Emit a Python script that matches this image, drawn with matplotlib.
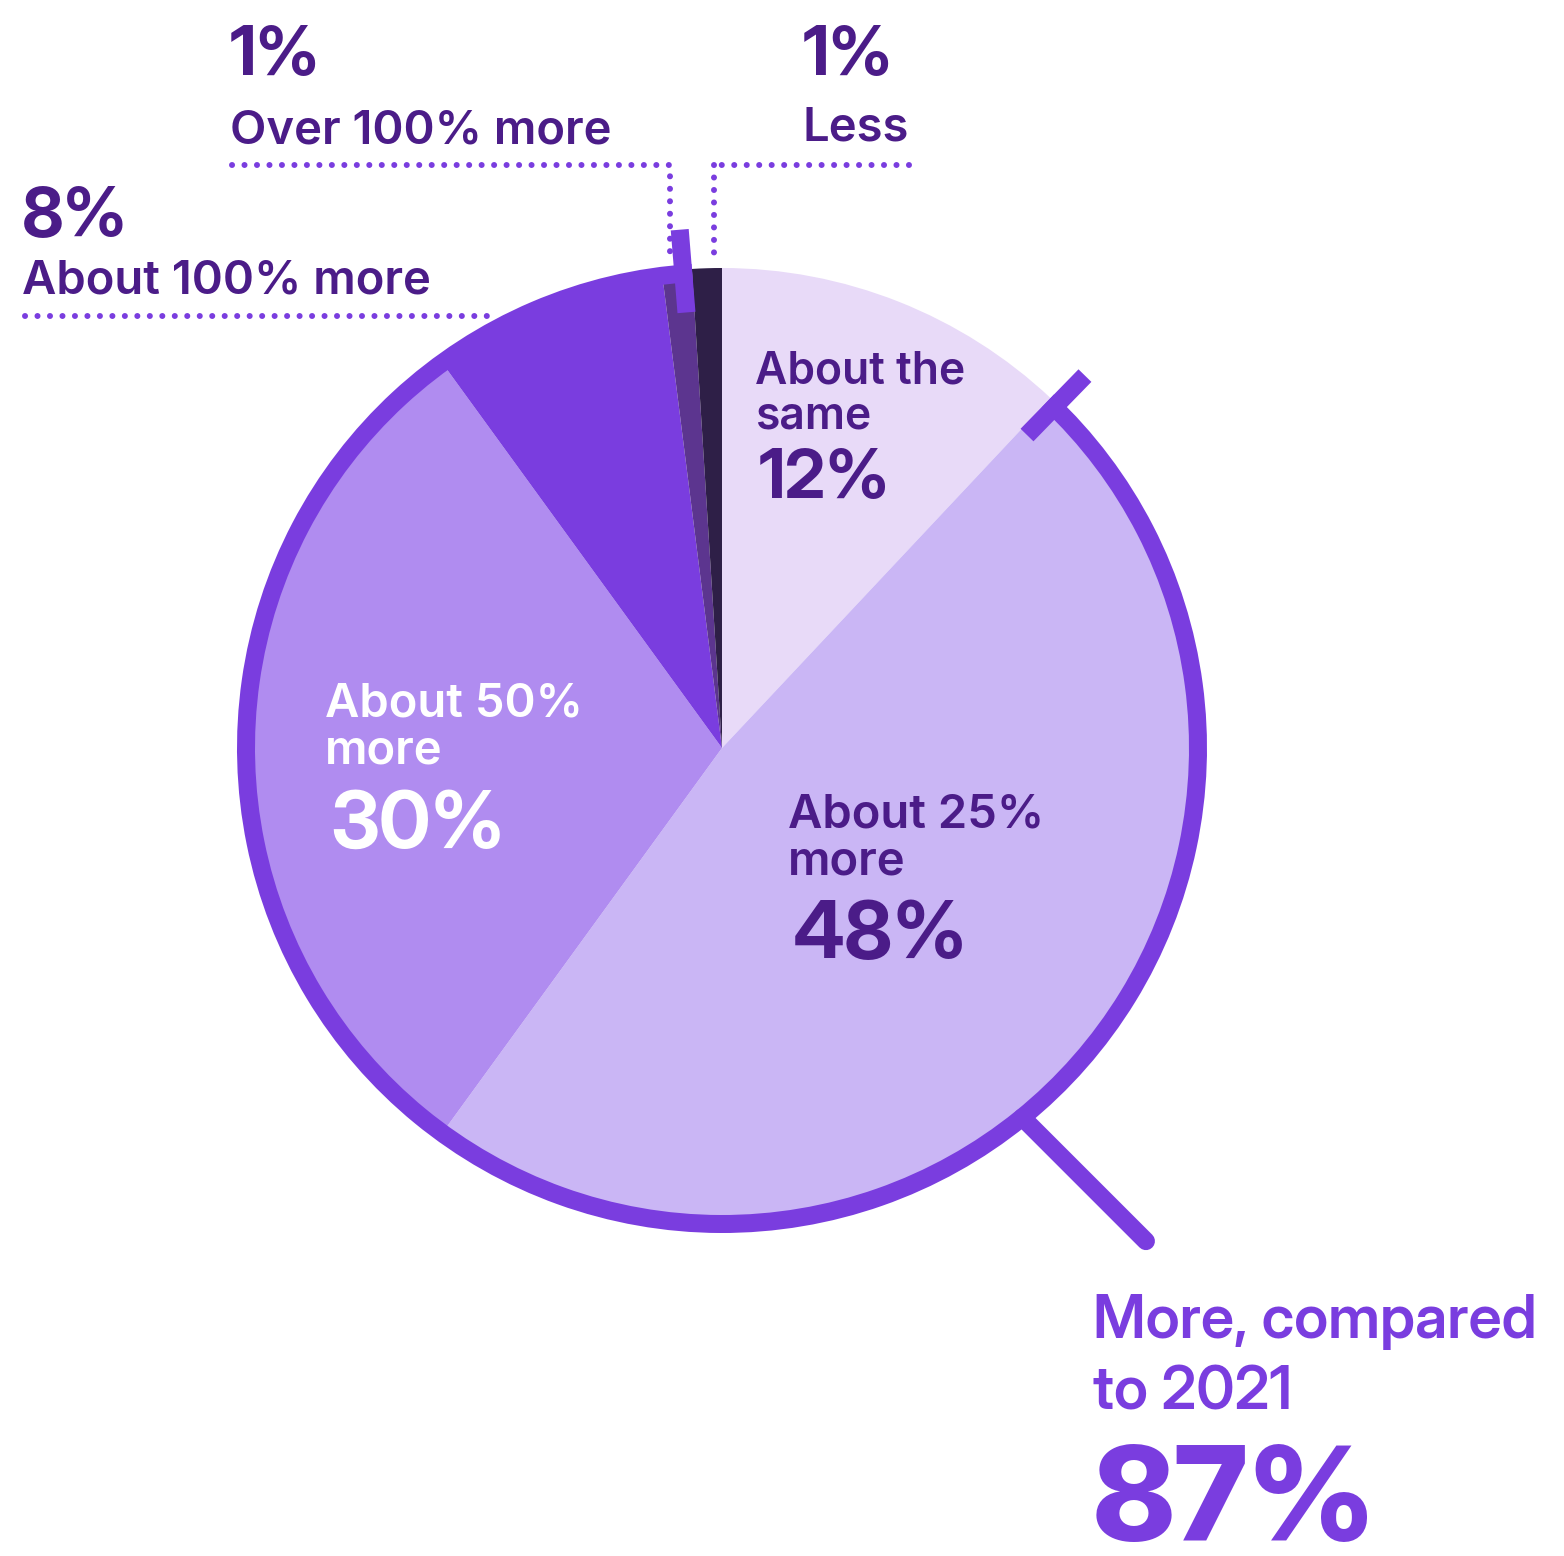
import numpy as np
import matplotlib.pyplot as plt
from matplotlib.patches import Wedge

# Spending compared with 2021, share of respondents
categories = ["About the same", "About 25% more", "About 50% more",
              "About 100% more", "Over 100% more", "Less"]
shares = [12, 48, 30, 8, 1, 1]
more_total = 87
colors = ["#e8daf8", "#cab6f5", "#b08cf0", "#7a3ddf", "#5c358f", "#2e1f47"]

W, H = 1564, 1556
CX, CY, R = 722, 748, 480
RING_R, RING_W = 485, 18
ACCENT = "#7a3ddf"
INK = "#4b1c88"
PX = 72 / 100  # points per pixel at dpi 100

TEXT_FONT = ['Inter', 'DejaVu Sans']
DISPLAY_FONT = ['Inter Display', 'Inter', 'DejaVu Sans']
plt.rcParams['font.family'] = TEXT_FONT

fig = plt.figure(figsize=(W / 100, H / 100), dpi=100)
ax = fig.add_axes([0, 0, 1, 1])
wedges, _ = ax.pie(shares, colors=colors, startangle=-90, counterclock=True,
                   center=(CX, CY), radius=R, wedgeprops=dict(linewidth=0))
ax.set_xlim(0, W)
ax.set_ylim(H, 0)
ax.set_aspect('equal')
ax.axis('off')

# ring around the "more" slices
t_start = wedges[1].theta1
t_end = wedges[4].theta2
ax.add_patch(Wedge((CX, CY), RING_R, t_start, t_end, width=RING_W,
                   facecolor=ACCENT, linewidth=0, zorder=3))


def radial(angle, r0, r1):
    a = np.deg2rad(angle)
    return ([CX + r0 * np.cos(a), CX + r1 * np.cos(a)],
            [CY + r0 * np.sin(a), CY + r1 * np.sin(a)])


# end ticks of the ring
off = np.rad2deg(RING_W / 2 / RING_R)
for ang in (t_start + off, t_end - off):
    xs, ys = radial(ang, 437, 520)
    ax.plot(xs, ys, color=ACCENT, lw=RING_W * PX, solid_capstyle='butt', zorder=4)

# leader to the total
lead_ang = np.deg2rad(50.9)
sx = CX + (RING_R - RING_W / 2) * np.cos(lead_ang)
sy = CY + (RING_R - RING_W / 2) * np.sin(lead_ang)
L = 175 / np.sqrt(2)
ax.plot([sx, sx + L], [sy, sy + L], color=ACCENT, lw=RING_W * PX,
        solid_capstyle='round', zorder=2)

# dotted callout lines
dot = dict(color=ACCENT, lw=6 * PX, linestyle=(0, (0.01, 2.07)),
           dash_capstyle='round', zorder=2)
ax.plot([232, 670, 670], [165, 165, 263], **dot)
ax.plot([909, 714], [165, 165], **dot)
ax.plot([714, 714], [165, 262], **dot)
ax.plot([25, 487], [316, 316], **dot)

big = 49
lab = 34
huge = 57


def label(x, y, s, size, weight, color=INK, family=TEXT_FONT):
    ax.text(x, y, s, color=color, fontsize=size, fontweight=weight,
            family=family, va='baseline', ha='left', zorder=5)


def number(x, y, s, size, color=INK, weight='bold'):
    label(x, y, s, size, weight, color, DISPLAY_FONT)


# outside labels
number(230, 75, f"{shares[4]}%", big)
label(230, 143, categories[4], lab, 'semibold')
number(803, 75, f"{shares[5]}%", big)
label(803, 140, categories[5], lab, 'semibold')
number(22, 235, f"{shares[3]}%", big)
label(22, 293, categories[3], lab, 'semibold')

# inside labels
label(755, 383, "About the", 32, 'semibold')
label(755, 428, "same", 32, 'semibold')
number(759, 498, f"{shares[0]}%", big)

label(325, 716, "About 50%", lab, 'semibold', "white")
label(325, 763, "more", lab, 'semibold', "white")
number(330, 848, f"{shares[2]}%", huge, "white")

label(788, 827, "About 25%", lab, 'semibold')
label(788, 874, "more", lab, 'semibold')
number(793, 958, f"{shares[1]}%", huge)

# total of the "more" group
label(1093, 1338, "More, compared", 43, 'semibold', ACCENT, DISPLAY_FONT)
label(1093, 1410, "to 2021", 43, 'semibold', ACCENT, DISPLAY_FONT)
number(1093, 1540, f"{more_total}%", 94, ACCENT, 'heavy')

fig.savefig("out.png", dpi=100, facecolor="white")
